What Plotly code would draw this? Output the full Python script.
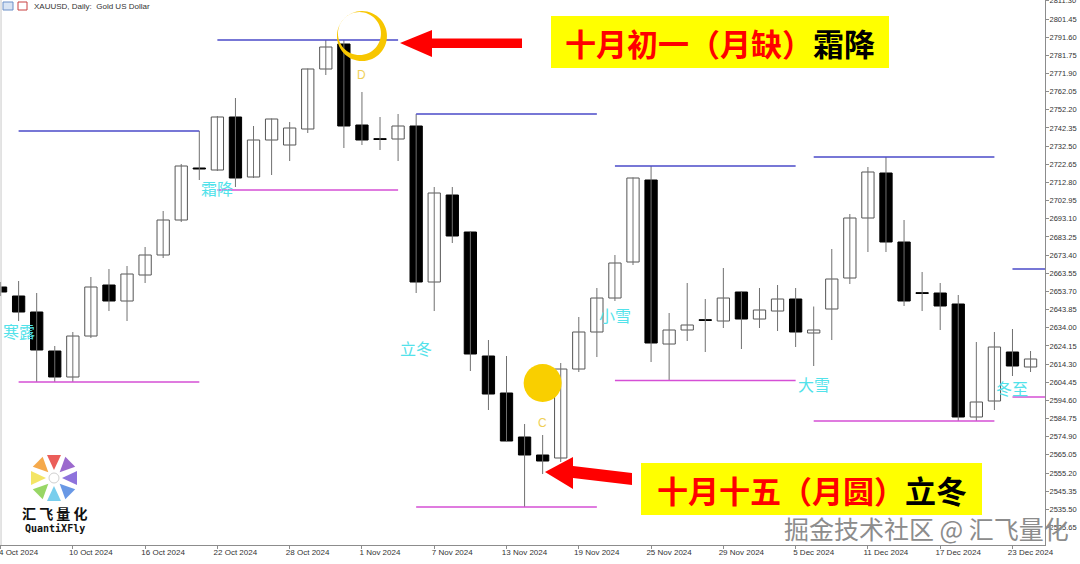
import math
import pandas as pd
import plotly.graph_objects as go

# ---------------- data ----------------
dates = [
    "2024-10-04", "2024-10-07", "2024-10-08", "2024-10-09", "2024-10-10", "2024-10-11",
    "2024-10-14", "2024-10-15", "2024-10-16", "2024-10-17", "2024-10-18", "2024-10-21",
    "2024-10-22", "2024-10-23", "2024-10-24", "2024-10-25", "2024-10-28", "2024-10-29",
    "2024-10-30", "2024-10-31", "2024-11-01", "2024-11-04", "2024-11-05", "2024-11-06",
    "2024-11-07", "2024-11-08", "2024-11-11", "2024-11-12", "2024-11-13", "2024-11-14",
    "2024-11-15", "2024-11-18", "2024-11-19", "2024-11-20", "2024-11-21", "2024-11-22",
    "2024-11-25", "2024-11-26", "2024-11-27", "2024-11-28", "2024-11-29", "2024-12-02",
    "2024-12-03", "2024-12-04", "2024-12-05", "2024-12-06", "2024-12-09", "2024-12-10",
    "2024-12-11", "2024-12-12", "2024-12-13", "2024-12-16", "2024-12-17", "2024-12-18",
    "2024-12-19", "2024-12-20", "2024-12-23", "2024-12-24",
]
opens = [
    2656.09, 2651.21, 2642.53, 2621.38, 2607.28, 2629.51, 2657.18, 2648.50, 2662.60, 2673.45,
    2692.43, 2720.64, 2719.55, 2748.30, 2715.76, 2735.82, 2733.11, 2741.79, 2774.33, 2787.89,
    2743.96, 2736.37, 2736.37, 2743.42, 2658.80, 2705.99, 2685.92, 2618.67, 2598.60, 2574.73,
    2564.97, 2563.34, 2611.61, 2631.68, 2650.12, 2669.65, 2714.13, 2625.17, 2632.77, 2638.19,
    2637.65, 2653.38, 2638.73, 2643.07, 2649.58, 2631.14, 2644.16, 2660.97, 2693.52, 2717.92,
    2680.50, 2652.84, 2652.84, 2646.87, 2585.58, 2594.26, 2620.84, 2612.70,
]
highs = [
    2658.80, 2659.35, 2652.84, 2624.09, 2631.68, 2661.52, 2665.85, 2667.48, 2677.79, 2697.31,
    2722.81, 2740.71, 2748.84, 2758.60, 2743.42, 2747.50, 2745.59, 2774.60, 2790.06, 2790.06,
    2761.86, 2748.30, 2749.93, 2749.93, 2710.33, 2710.33, 2686.20, 2627.34, 2618.67, 2581.78,
    2575.82, 2614.87, 2639.82, 2655.55, 2673.45, 2715.50, 2721.72, 2641.99, 2658.26, 2649.58,
    2666.40, 2653.60, 2655.55, 2657.18, 2655.55, 2645.51, 2676.70, 2695.69, 2721.18, 2726.60,
    2692.43, 2664.23, 2658.26, 2651.75, 2626.26, 2631.68, 2633.31, 2621.38,
]
lows = [
    2651.21, 2637.65, 2604.56, 2604.56, 2604.56, 2628.43, 2643.07, 2637.65, 2658.26, 2671.82,
    2691.35, 2714.13, 2719.01, 2710.33, 2715.21, 2716.84, 2724.43, 2739.62, 2771.08, 2731.48,
    2733.11, 2730.40, 2724.43, 2652.84, 2643.07, 2679.96, 2610.53, 2589.38, 2572.30, 2536.76,
    2554.66, 2561.17, 2609.99, 2618.12, 2648.50, 2668.02, 2615.41, 2605.38, 2626.80, 2620.84,
    2633.85, 2622.46, 2633.85, 2632.23, 2623.55, 2613.24, 2627.34, 2657.72, 2675.08, 2675.08,
    2645.79, 2643.07, 2632.77, 2583.41, 2583.41, 2589.38, 2607.82, 2609.99,
]
closes = [
    2653.38, 2642.53, 2621.92, 2607.28, 2629.51, 2656.09, 2648.50, 2663.14, 2673.45, 2692.43,
    2721.72, 2720.09, 2748.30, 2715.21, 2735.82, 2747.21, 2742.33, 2774.33, 2786.27, 2743.42,
    2735.82, 2736.10, 2743.42, 2658.80, 2707.08, 2683.75, 2619.75, 2598.05, 2572.56, 2564.97,
    2561.71, 2611.61, 2631.68, 2650.12, 2669.11, 2715.21, 2625.72, 2632.77, 2635.48, 2637.92,
    2650.12, 2638.73, 2643.62, 2649.58, 2631.68, 2632.77, 2660.43, 2693.52, 2718.47, 2680.50,
    2648.50, 2652.57, 2645.79, 2585.58, 2593.72, 2623.55, 2613.24, 2617.04,
]

# support / resistance levels (each spans 10 bars from its start date)
level_start = ["2024-10-07", "2024-10-22", "2024-11-06", "2024-11-21", "2024-12-06", "2024-12-23"]
level_high = [2740.71, 2790.06, 2749.93, 2721.72, 2726.60, 2665.85]
level_low = [2604.56, 2708.70, 2536.76, 2605.38, 2583.41, 2596.43]

# solar terms
term_names = ["寒露", "霜降", "立冬", "小雪", "大雪", "冬至"]
term_prices = [2632.2, 2709.8, 2623.0, 2640.9, 2603.5, 2601.3]

# moon phases
moon_dates = ["2024-11-01", "2024-11-15"]
moon_letters = ["D", "C"]
moon_prices = [2792.2, 2604.0]
moon_letter_prices = [2771.1, 2582.3]

# price axis ticks
y_ticks = [2811.30 - 9.85 * k for k in range(30)]

# ---------------- layout geometry ----------------
W, H = 1080, 564
ML, MR, MT, MB = 0, 35, 0, 19
PW, PH = W - ML - MR, H - MT - MB


def px(v):
    return v / PW


def py(v):
    return 1 - v / PH


pos = {d: i for i, d in enumerate(dates)}

fig = go.Figure()

# wicks
wx, wy = [], []
for i, (h, l) in enumerate(zip(highs, lows)):
    wx += [i, i, None]
    wy += [l, h, None]
fig.add_trace(go.Scatter(x=wx, y=wy, mode="lines", line=dict(color="#707070", width=1),
                         hoverinfo="skip", showlegend=False))

up_x, up_b, up_h, dn_x, dn_b, dn_h = [], [], [], [], [], []
for i, (o, c) in enumerate(zip(opens, closes)):
    b = min(o, c)
    hgt = max(abs(c - o), 0.45)
    if c >= o:
        up_x.append(i); up_b.append(b); up_h.append(hgt)
    else:
        dn_x.append(i); dn_b.append(b); dn_h.append(hgt)

fig.add_trace(go.Bar(x=up_x, y=up_h, base=up_b, width=0.68,
                     marker=dict(color="white", line=dict(color="#555555", width=1)),
                     hoverinfo="skip", showlegend=False))
fig.add_trace(go.Bar(x=dn_x, y=dn_h, base=dn_b, width=0.68,
                     marker=dict(color="black", line=dict(color="black", width=1)),
                     hoverinfo="skip", showlegend=False))

shapes = []
annotations = []

# level lines
for s, hi, lo in zip(level_start, level_high, level_low):
    i0 = pos[s]
    i1 = min(i0 + 10, 57.8)
    shapes.append(dict(type="line", xref="x", yref="y", x0=i0, x1=i1, y0=hi, y1=hi,
                       line=dict(color="#4a4ac8", width=1.6)))
    shapes.append(dict(type="line", xref="x", yref="y", x0=i0, x1=i1, y0=lo, y1=lo,
                       line=dict(color="#d54fd5", width=1.6)))

# solar term labels
for s, name, p in zip(level_start, term_names, term_prices):
    annotations.append(dict(x=pos[s], y=p, xref="x", yref="y", text=name, showarrow=False,
                            xanchor="center", yanchor="middle",
                            font=dict(family="Noto Sans CJK SC", size=16, color="#52e2ea")))

# moon markers
new_i = pos[moon_dates[0]]
full_i = pos[moon_dates[1]]
n = 60
outer = [(25 * math.cos(2 * math.pi * k / n), 25 * math.sin(2 * math.pi * k / n)) for k in range(n)]
inner = [(-2.5 + 21.5 * math.cos(-2 * math.pi * k / n), 2.5 + 21.5 * math.sin(-2 * math.pi * k / n)) for k in range(n)]
path = "M" + " L".join(f"{a:.2f},{b:.2f}" for a, b in outer) + " Z M" + \
       " L".join(f"{a:.2f},{b:.2f}" for a, b in inner) + " Z"
shapes.append(dict(type="path", xref="x", yref="y", xsizemode="pixel", ysizemode="pixel",
                   xanchor=new_i, yanchor=moon_prices[0], path=path, fillrule="evenodd",
                   fillcolor="#f7c600", line=dict(width=0)))
shapes.append(dict(type="circle", xref="x", yref="y", xsizemode="pixel", ysizemode="pixel",
                   xanchor=full_i, yanchor=moon_prices[1], x0=-19, x1=19, y0=-19, y1=19,
                   fillcolor="#f9cf00", line=dict(width=0)))
for d, letter, p in zip(moon_dates, moon_letters, moon_letter_prices):
    annotations.append(dict(x=pos[d], y=p, xref="x", yref="y", text=letter, showarrow=False,
                            xanchor="center", yanchor="middle",
                            font=dict(family="Liberation Sans", size=12, color="#efcf55")))


def poly(points):
    return "M" + " L".join(f"{px(a):.5f},{py(b):.5f}" for a, b in points) + " Z"


def note(xp, yp, text, font, xanchor="center"):
    annotations.append(dict(x=px(xp), y=py(yp), xref="paper", yref="paper", text=text,
                            showarrow=False, xanchor=xanchor, yanchor="middle", font=font))


# red arrows
arrow1 = [(400, 43), (432, 30), (432, 38.5), (522, 38.5), (522, 48), (432, 48), (432, 57)]
arrow2 = [(545, 472), (573, 457), (573, 466), (632, 473), (632, 485), (573, 478), (573, 489)]
for a in (arrow1, arrow2):
    shapes.append(dict(type="path", xref="paper", yref="paper", path=poly(a),
                       fillcolor="#ff0000", line=dict(width=0)))

# yellow callout boxes
boxes = [(551, 16, 889, 68, "十月初一（月缺）", "霜降"),
         (641, 463, 982, 515, "十月十五（月圆）", "立冬")]
for x0, y0, x1, y1, red, black in boxes:
    shapes.append(dict(type="rect", xref="paper", yref="paper", x0=px(x0), x1=px(x1),
                       y0=py(y1), y1=py(y0), fillcolor="#ffff00", line=dict(width=0)))
    note((x0 + x1) / 2, (y0 + y1) / 2,
         f"<b><span style='color:#ff0000'>{red}</span>{black}</b>",
         dict(family="Noto Sans CJK SC", size=31, color="#000000"))

# logo
cx, cy = 54, 478
petal_colors = ["#e8413c", "#8a4fc4", "#7a5bd6", "#4f86e0", "#62c6ea", "#86cf4a", "#f2e14a", "#f39a2c"]
for k, col in enumerate(petal_colors):
    ang = math.radians(-90 + 45 * k)
    ux, uy = math.cos(ang), math.sin(ang)
    vx, vy = -uy, ux
    tip = (cx + 8 * ux, cy + 8 * uy)
    b1 = (cx + 23 * ux + 7 * vx, cy + 23 * uy + 7 * vy)
    b2 = (cx + 23 * ux - 7 * vx, cy + 23 * uy - 7 * vy)
    shapes.append(dict(type="path", xref="paper", yref="paper", path=poly([tip, b1, b2]),
                       fillcolor=col, line=dict(width=0), opacity=0.85))
shapes.append(dict(type="circle", xref="paper", yref="paper", x0=px(cx - 5), x1=px(cx + 5),
                   y0=py(cy + 5), y1=py(cy - 5), fillcolor="white", line=dict(color="#d0d0d0", width=1)))
note(55, 513, "<b>汇 飞 量 化</b>", dict(family="Noto Sans CJK SC", size=14, color="#111"))
note(55, 528, "<b>QuantiXFly</b>", dict(family="DejaVu Sans Mono", size=10, color="#111"))

# header
shapes.append(dict(type="rect", xref="paper", yref="paper", x0=px(3), x1=px(13), y0=py(10), y1=py(2),
                   fillcolor="#d8e4f4", line=dict(color="#6a8fc8", width=1)))
shapes.append(dict(type="rect", xref="paper", yref="paper", x0=px(18), x1=px(27), y0=py(10), y1=py(2),
                   fillcolor="#ffffff", line=dict(color="#c84040", width=1)))
note(32, 6, "XAUUSD, Daily:  Gold US Dollar", dict(family="Liberation Sans", size=8, color="#333"),
     xanchor="left")

# watermark
note(926, 528, "掘金技术社区 @ 汇飞量化", dict(family="Noto Sans CJK SC", size=25, color="#8c8c8c"))

# left chart border
shapes.append(dict(type="line", xref="paper", yref="paper", x0=0.001, x1=0.001, y0=0, y1=1,
                   line=dict(color="#c8c8c8", width=1)))

tick_idx = list(range(0, len(dates), 4))
tick_text = [f"{pd.Timestamp(dates[i]).day} {pd.Timestamp(dates[i]).strftime('%b %Y')}" for i in tick_idx]

fig.update_layout(
    width=W, height=H,
    margin=dict(l=ML, r=MR, t=MT, b=MB, autoexpand=False),
    paper_bgcolor="white", plot_bgcolor="white",
    barmode="overlay", showlegend=False,
    shapes=shapes, annotations=annotations,
    xaxis=dict(range=[-0.03, 57.8], tickvals=tick_idx, ticktext=tick_text, showgrid=False,
               zeroline=False, showline=True, linecolor="#8c8c8c", linewidth=1, automargin=False,
               ticks="outside", ticklen=3, tickcolor="#8c8c8c", ticklabelshift=18,
               ticklabelstandoff=-4, ticklabeloverflow="allow",
               tickfont=dict(family="Liberation Sans", size=8, color="#333")),
    yaxis=dict(range=[2516.16, 2811.76], side="right", tickvals=y_ticks, automargin=False,
               ticktext=[f"{v:.2f}" for v in y_ticks], showgrid=False, zeroline=False,
               showline=True, linecolor="#8c8c8c", linewidth=1, ticks="outside", ticklen=3,
               ticklabelstandoff=-1, ticklabeloverflow="allow",
               tickcolor="#8c8c8c", tickfont=dict(family="Liberation Sans", size=7.5, color="#333")),
)

fig.write_html("out.html", config={"displayModeBar": False},
               post_script="document.body.style.margin='0';document.body.style.padding='0';")
